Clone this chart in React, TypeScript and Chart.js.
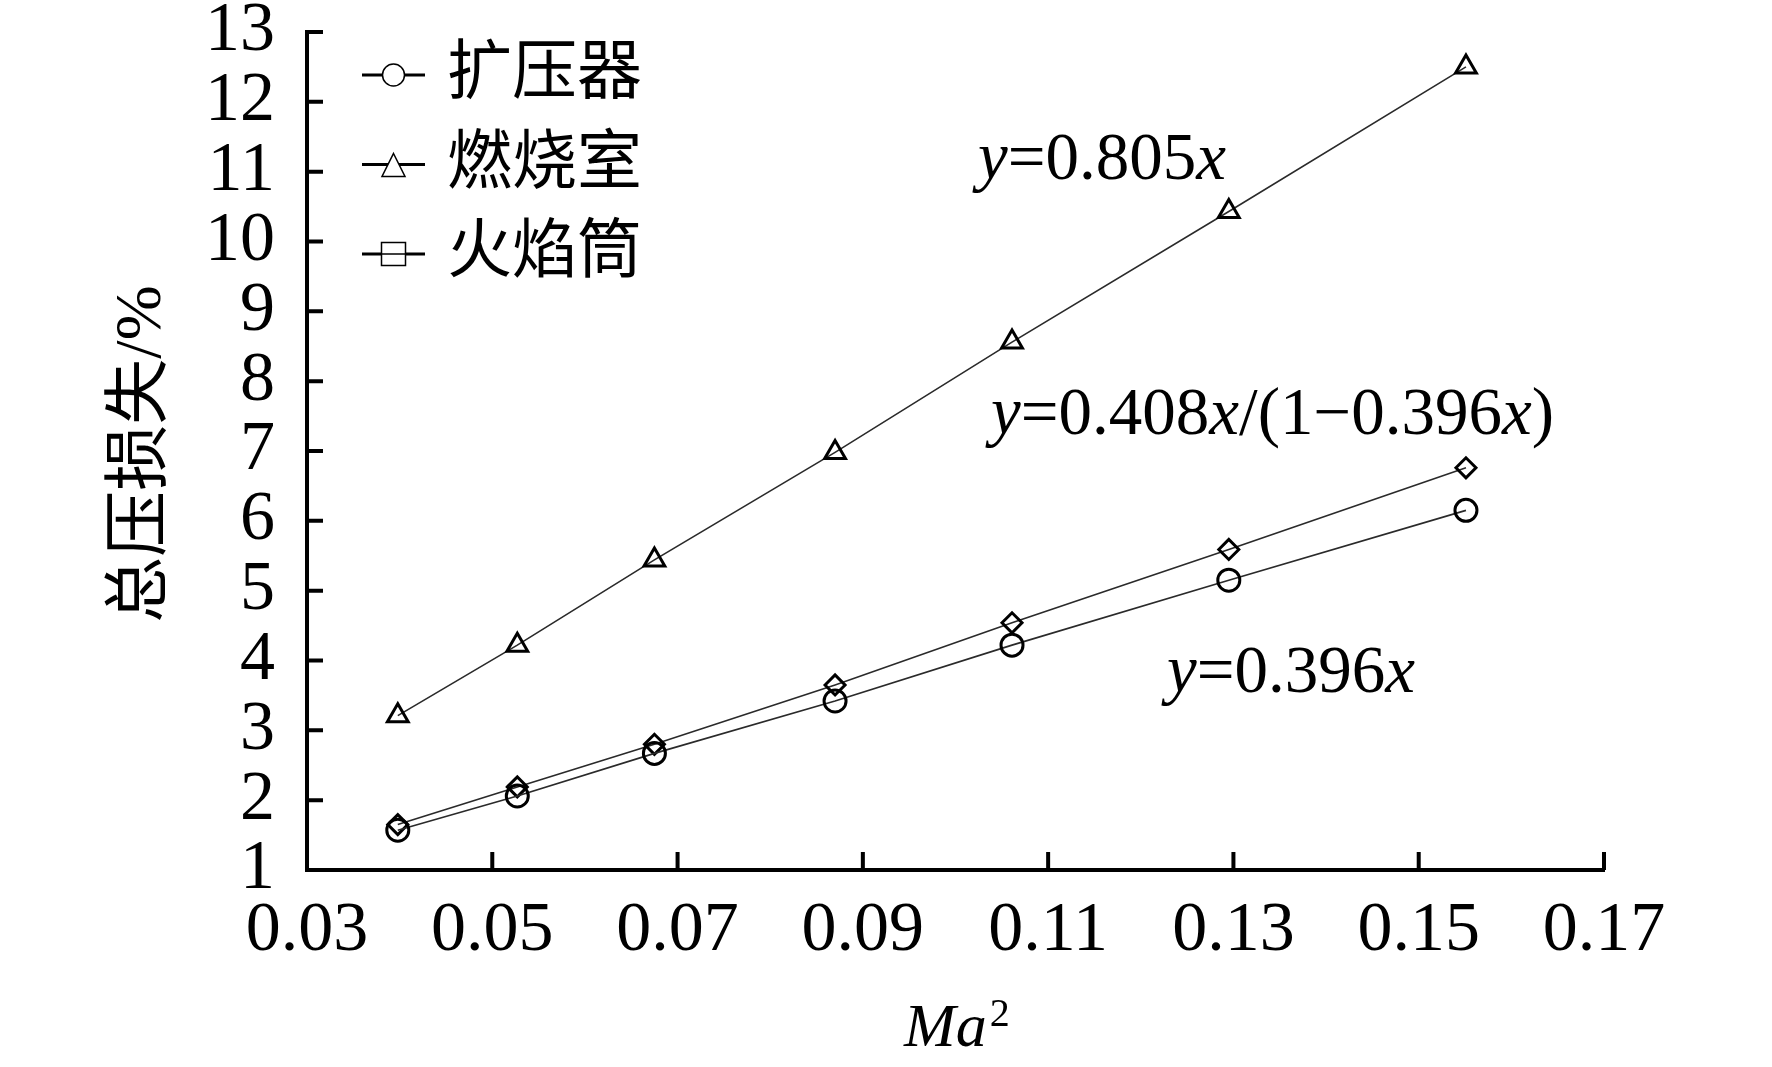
import React, { useEffect, useRef } from 'react';
import Chart from 'chart.js/auto';

// Ma^2 at each test point
const maSquared = [0.0398, 0.0527, 0.0675, 0.087, 0.1061, 0.1295, 0.1551];
// total pressure loss, %
const diffuserLoss = [1.57, 2.06, 2.67, 3.42, 4.22, 5.15, 6.15];
const combustorLoss = [3.21, 4.22, 5.44, 6.98, 8.56, 10.43, 12.5];
const linerLoss = [1.65, 2.19, 2.8, 3.65, 4.54, 5.59, 6.76];

const seriesNames = ['扩压器', '燃烧室', '火焰筒'];
const xTicks = [0.03, 0.05, 0.07, 0.09, 0.11, 0.13, 0.15, 0.17];
const yTicks = [1, 2, 3, 4, 5, 6, 7, 8, 9, 10, 11, 12, 13];
const fitLabels = ['y=0.805x', 'y=0.408x/(1−0.396x)', 'y=0.396x'];

const SERIF = '"Liberation Serif", "Times New Roman", "Noto Sans CJK SC", serif';

// draws a formula, latin letters in italic
function drawFormula(ctx: CanvasRenderingContext2D, text: string, x: number, y: number, size: number) {
  let cx = x;
  for (const ch of text) {
    const italic = /[a-zA-Z]/.test(ch);
    ctx.font = `${italic ? 'italic ' : ''}${size}px ${SERIF}`;
    ctx.fillText(ch, cx, y);
    cx += ctx.measureText(ch).width;
  }
}

const decorPlugin = {
  id: 'decor',
  afterDraw(chart: any) {
    const { ctx, scales } = chart;
    const xs = scales.x;
    const ys = scales.y;
    ctx.save();
    ctx.strokeStyle = '#000';
    ctx.fillStyle = '#000';

    // inward tick marks
    ctx.lineWidth = 4;
    ctx.beginPath();
    xTicks.forEach((v) => {
      const px = xs.getPixelForValue(v);
      ctx.moveTo(px, xs.top);
      ctx.lineTo(px, xs.top - 18);
    });
    yTicks.forEach((v) => {
      const py = ys.getPixelForValue(v);
      ctx.moveTo(ys.right, py);
      ctx.lineTo(ys.right + 16, py);
    });
    ctx.stroke();

    // legend
    const styles = ['circle', 'triangle', 'rect'];
    chart.data.datasets.forEach((ds: any, i: number) => {
      const ly = 75 + i * 89.5;
      ctx.lineWidth = 3;
      ctx.beginPath();
      ctx.moveTo(362, ly);
      ctx.lineTo(425, ly);
      ctx.stroke();
      const mx = 393.5;
      ctx.lineWidth = 1.5;
      ctx.fillStyle = '#fff';
      ctx.beginPath();
      if (styles[i] === 'circle') {
        ctx.arc(mx, ly, 11, 0, Math.PI * 2);
        ctx.fill();
      } else if (styles[i] === 'triangle') {
        ctx.moveTo(mx, ly - 11);
        ctx.lineTo(mx + 11.5, ly + 12);
        ctx.lineTo(mx - 11.5, ly + 12);
        ctx.closePath();
        ctx.fill();
      } else {
        ctx.rect(mx - 12, ly - 11.5, 24, 23);
        ctx.fill();
        ctx.moveTo(mx - 12, ly);
        ctx.lineTo(mx + 12, ly);
      }
      ctx.stroke();
      ctx.fillStyle = '#000';
      ctx.font = `65px ${SERIF}`;
      ctx.textBaseline = 'middle';
      ctx.textAlign = 'left';
      ctx.fillText(ds.label, 447, ly + 1);
    });

    // fit formulas
    ctx.textBaseline = 'alphabetic';
    drawFormula(ctx, fitLabels[0], 978, 179, 67);
    drawFormula(ctx, fitLabels[1], 991, 434, 67);
    drawFormula(ctx, fitLabels[2], 1167, 692, 67);

    // axis titles
    ctx.font = `italic 62px ${SERIF}`;
    ctx.fillText('Ma', 904, 1046);
    const w = ctx.measureText('Ma').width;
    ctx.font = `40px ${SERIF}`;
    ctx.fillText('2', 904 + w + 3, 1026);

    ctx.save();
    ctx.translate(143, (ys.top + ys.bottom) / 2 + 3);
    ctx.rotate(-Math.PI / 2);
    ctx.font = `66px ${SERIF}`;
    ctx.textAlign = 'center';
    ctx.textBaseline = 'middle';
    ctx.fillText('总压损失/%', 0, 0);
    ctx.restore();

    ctx.restore();
  },
};

const App = () => {
  const canvasDom = useRef<HTMLCanvasElement>(null);
  useEffect(() => {
    if (!canvasDom.current) {
      return;
    }
    const toPoints = (ys: number[]) => maSquared.map((x, i) => ({ x, y: ys[i] }));
    const lineStyle = {
      borderColor: '#2a2a2a',
      borderWidth: 1.6,
      pointBorderColor: '#000',
      pointBackgroundColor: 'rgba(0,0,0,0)',
      pointBorderWidth: 3,
      showLine: true,
      fill: false,
    };

    const myChart = new Chart(canvasDom.current, {
      type: 'scatter',
      data: {
        datasets: [
          { label: seriesNames[0], data: toPoints(diffuserLoss), pointStyle: 'circle', pointRadius: 11, ...lineStyle },
          { label: seriesNames[1], data: toPoints(combustorLoss), pointStyle: 'triangle', pointRadius: 12, ...lineStyle },
          { label: seriesNames[2], data: toPoints(linerLoss), pointStyle: 'rectRot', pointRadius: 10, ...lineStyle },
        ],
      },
      options: {
        animation: false,
        responsive: true,
        maintainAspectRatio: false,
        layout: { autoPadding: false, padding: { top: 32, right: 168, left: 0, bottom: 0 } },
        plugins: { legend: { display: false }, tooltip: { enabled: false } },
        scales: {
          x: {
            type: 'linear',
            min: 0.03,
            max: 0.17,
            afterBuildTicks: (s: any) => {
              s.ticks = xTicks.map((value) => ({ value }));
            },
            afterFit: (s: any) => {
              s.height = 197;
              s.paddingLeft = 0;
              s.paddingRight = 0;
            },
            grid: { display: false, drawTicks: false },
            border: { display: true, color: '#000', width: 4 },
            ticks: {
              color: '#000',
              font: { family: SERIF, size: 70, lineHeight: 1 },
              padding: 27,
              maxRotation: 0,
              autoSkip: false,
              callback: (v: any) => Number(v).toFixed(2),
            },
          },
          y: {
            type: 'linear',
            min: 1,
            max: 13,
            afterBuildTicks: (s: any) => {
              s.ticks = yTicks.map((value) => ({ value }));
            },
            afterFit: (s: any) => {
              s.width = 307;
              s.paddingTop = 0;
              s.paddingBottom = 0;
            },
            grid: { display: false, drawTicks: false },
            border: { display: true, color: '#000', width: 4 },
            ticks: {
              color: '#000',
              font: { family: SERIF, size: 70, lineHeight: 1 },
              padding: 32,
              autoSkip: false,
              callback: (v: any) => String(v),
            },
          },
        },
      },
      plugins: [decorPlugin],
    });

    return () => {
      myChart.destroy();
    };
  }, []);

  return (
    <div style={{ position: 'fixed', left: 0, top: 0, width: 1772, height: 1067, background: '#fff' }}>
      <canvas ref={canvasDom}></canvas>
    </div>
  );
};

export default App;
